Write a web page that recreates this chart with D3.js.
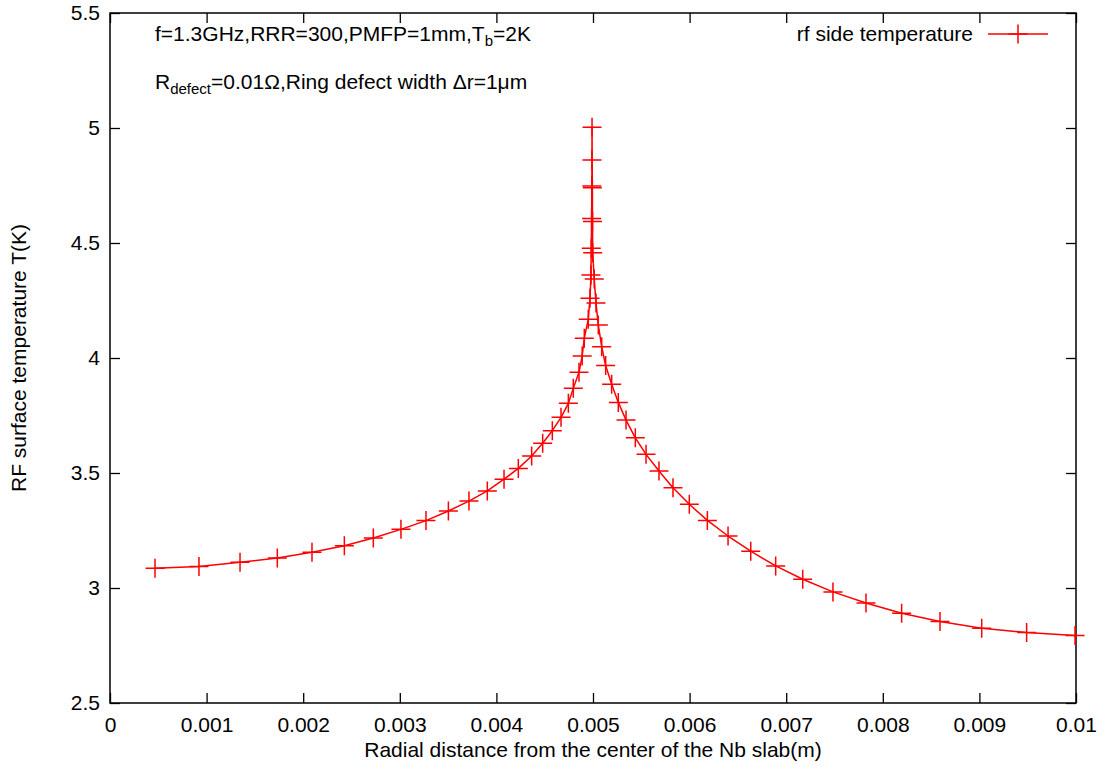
<!DOCTYPE html>
<html>
<head>
<meta charset="utf-8">
<script src="https://cdn.jsdelivr.net/npm/d3@7"></script>
<style>
  html, body { margin: 0; padding: 0; background: #fff; }
  svg text { font-family: "Liberation Sans", Arial, Helvetica, sans-serif; fill: #000; }
</style>
</head>
<body>
<svg id="chart" width="1108" height="771"></svg>
<script>
// ---- data ----
const radialDistance = [
  0.000466, 0.000921, 0.001346, 0.001732, 0.002091, 0.002426, 0.002726, 0.003012,
  0.003271, 0.003503, 0.003716, 0.003906, 0.004079, 0.004227, 0.004365, 0.004479,
  0.004579, 0.004669, 0.004745, 0.004796, 0.004855, 0.004888, 0.004910, 0.004951,
  0.004969, 0.004979, 0.004982, 0.004986, 0.004988, 0.004989, 0.004990,
  0.004993, 0.004995, 0.004997, 0.005013, 0.005031, 0.005055, 0.005090, 0.005131,
  0.005193, 0.005262, 0.005342, 0.005438, 0.005549, 0.005683, 0.005828, 0.005997,
  0.006184, 0.006398, 0.006633, 0.006891, 0.007171, 0.007484, 0.007826, 0.008195,
  0.008592, 0.009024, 0.009489, 0.009990
];
const rfSideTemperature = [
  3.086, 3.093, 3.112, 3.130, 3.155, 3.184, 3.217, 3.255,
  3.293, 3.335, 3.378, 3.422, 3.473, 3.520, 3.574, 3.629,
  3.684, 3.742, 3.803, 3.868, 3.938, 4.009, 4.086, 4.168,
  4.260, 4.361, 4.477, 4.606, 4.748, 4.861, 5.003,
  4.740, 4.594, 4.458, 4.343, 4.239, 4.143, 4.049, 3.967,
  3.886, 3.807, 3.730, 3.653, 3.581, 3.509, 3.436, 3.364,
  3.294, 3.226, 3.160, 3.096, 3.038, 2.983, 2.935, 2.890,
  2.854, 2.825, 2.806, 2.794
];
const xTicks = [0, 0.001, 0.002, 0.003, 0.004, 0.005, 0.006, 0.007, 0.008, 0.009, 0.01];
const xTickLabels = ["0", "0.001", "0.002", "0.003", "0.004", "0.005", "0.006", "0.007", "0.008", "0.009", "0.01"];
const yTicks = [2.5, 3, 3.5, 4, 4.5, 5, 5.5];
const yTickLabels = ["2.5", "3", "3.5", "4", "4.5", "5", "5.5"];
const seriesName = "rf side temperature";
const xTitle = "Radial distance from the center of the Nb slab(m)";
const yTitle = "RF surface temperature T(K)";

// ---- layout ----
const L = 110, R = 1076, T = 13, B = 703;
const FS = 21;
const RED = "#ff0000";
const svg = d3.select("#chart");

const x = d3.scaleLinear().domain([0, 0.01]).range([L, R]);
const y = d3.scaleLinear().domain([2.5, 5.5]).range([B, T]);

function styleAxis(g) {
  g.select(".domain").remove();
  g.selectAll(".tick line").attr("stroke", "#000").attr("stroke-width", 1.3);
  g.selectAll(".tick text").style("font-size", FS + "px").attr("fill", "#000");
}

// bottom axis
svg.append("g").attr("transform", `translate(0,${B})`)
  .call(d3.axisBottom(x).tickValues(xTicks).tickSizeInner(-10).tickSizeOuter(0).tickPadding(14)
    .tickFormat((d, i) => xTickLabels[i]))
  .call(styleAxis);
// top axis (mirror)
svg.append("g").attr("transform", `translate(0,${T})`)
  .call(d3.axisTop(x).tickValues(xTicks).tickSizeInner(-10).tickSizeOuter(0).tickFormat(""))
  .call(styleAxis);
// left axis
svg.append("g").attr("transform", `translate(${L},0)`)
  .call(d3.axisLeft(y).tickValues(yTicks).tickSizeInner(-10).tickSizeOuter(0).tickPadding(10)
    .tickFormat((d, i) => yTickLabels[i]))
  .call(styleAxis);
// right axis (mirror)
svg.append("g").attr("transform", `translate(${R},0)`)
  .call(d3.axisRight(y).tickValues(yTicks).tickSizeInner(-10).tickSizeOuter(0).tickFormat(""))
  .call(styleAxis);

// border
svg.append("rect").attr("x", L).attr("y", T).attr("width", R - L).attr("height", B - T)
  .attr("fill", "none").attr("stroke", "#000").attr("stroke-width", 1.5);

// ---- series ----
const pts = radialDistance.map((d, i) => [d, rfSideTemperature[i]]);
const line = d3.line().x(d => x(d[0])).y(d => y(d[1]));
svg.append("path").datum(pts).attr("d", line)
  .attr("fill", "none").attr("stroke", RED).attr("stroke-width", 1.5).attr("stroke-linejoin", "round");

const ms = 9.5;
svg.append("g").selectAll("path.pt").data(pts).join("path")
  .attr("class", "pt")
  .attr("d", d => {
    const cx = x(d[0]), cy = y(d[1]);
    return `M${cx - ms},${cy}H${cx + ms}M${cx},${cy - ms}V${cy + ms}`;
  })
  .attr("stroke", RED).attr("stroke-width", 1.5).attr("fill", "none");

// ---- legend ----
const legY = 34;
svg.append("text").attr("x", 973).attr("y", legY).attr("dy", "0.35em")
  .attr("text-anchor", "end").style("font-size", FS + "px").text(seriesName);
svg.append("line").attr("x1", 988).attr("x2", 1048).attr("y1", legY).attr("y2", legY)
  .attr("stroke", RED).attr("stroke-width", 1.5);
svg.append("path").attr("d", `M${1018 - ms},${legY}H${1018 + ms}M1018,${legY - ms}V${legY + ms}`)
  .attr("stroke", RED).attr("stroke-width", 1.5);

// ---- annotations ----
const a1 = svg.append("text").attr("x", 155).attr("y", 41).style("font-size", FS + "px");
a1.append("tspan").text("f=1.3GHz,RRR=300,PMFP=1mm,T");
a1.append("tspan").attr("dy", 5).style("font-size", "15px").text("b");
a1.append("tspan").attr("dy", -5).text("=2K");

const a2 = svg.append("text").attr("x", 155).attr("y", 89).style("font-size", FS + "px");
a2.append("tspan").text("R");
a2.append("tspan").attr("dy", 5).style("font-size", "15px").text("defect");
a2.append("tspan").attr("dy", -5).text("=0.01\u03A9,Ring defect width \u0394r=1\u03BCm");

// ---- axis titles ----
svg.append("text").attr("x", (L + R) / 2).attr("y", 757).attr("text-anchor", "middle")
  .style("font-size", FS + "px").text(xTitle);
svg.append("text").attr("transform", `translate(26,${(T + B) / 2}) rotate(-90)`)
  .attr("text-anchor", "middle").style("font-size", FS + "px").text(yTitle);
</script>
</body>
</html>
